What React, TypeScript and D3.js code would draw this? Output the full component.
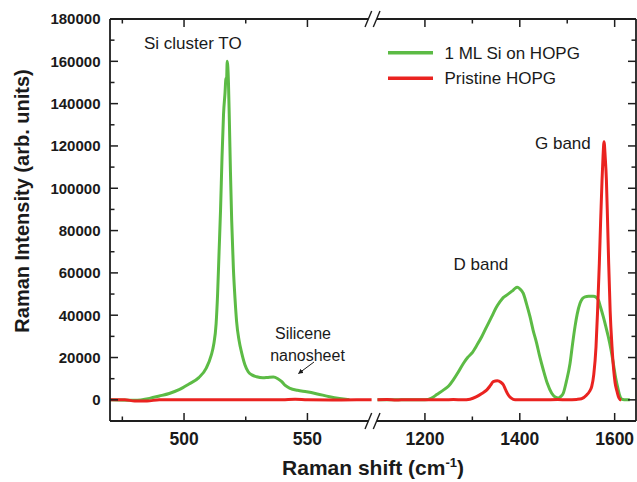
import React from "react";
import * as d3 from "d3";

// ---- data ----
const greenLeftX = [470, 480, 486, 490, 494, 498, 502, 506, 509, 511, 512, 513, 513.6, 514.2, 514.8, 515.4, 516, 516.6, 517, 517.2, 517.5, 518, 518.4, 518.8, 519.3, 520, 520.7, 521.3, 522.3, 523.4, 524.7, 526, 527.5, 529.4, 532, 534, 536.2, 538, 539.6, 541, 543, 546, 549.7, 554, 559, 563, 567];
const greenLeftY = [0, -200, 700, 1800, 3000, 4800, 7500, 10500, 15000, 21000, 26000, 36000, 50000, 70000, 90000, 115000, 135000, 145000, 152000, 150000, 160000, 150000, 130000, 108000, 85000, 62000, 47000, 37000, 28000, 22000, 16500, 13300, 11800, 10900, 10400, 10600, 10800, 10000, 8600, 6800, 5400, 4500, 3800, 2800, 1500, 700, 100];

const redLeftX = [470, 476, 480, 485, 490, 500, 510, 520, 530, 540, 545, 550, 560, 570, 576];
const redLeftY = [0, 0, -500, -500, 0, 0, 100, 0, 0, 100, 300, 0, -100, 0, 0];

const greenRightX = [1100, 1150, 1200, 1214, 1225, 1238.7, 1250, 1259.8, 1270, 1281, 1290, 1298.6, 1310, 1319.7, 1330, 1340.8, 1350, 1358.3, 1365, 1372.4, 1380, 1386.3, 1390, 1394.8, 1400, 1407.4, 1414, 1421.5, 1428, 1435.6, 1442, 1449.6, 1458, 1467.3, 1475, 1481.2, 1486, 1491.7, 1498, 1505.9, 1511, 1516.4, 1521, 1527, 1532, 1537.5, 1545, 1555, 1561, 1565.5, 1570, 1576, 1581, 1586.6, 1592, 1597.2, 1602, 1607.7, 1611, 1614.8, 1620, 1632];
const greenRightY = [0, 0, 0, 800, 2500, 4600, 6500, 9400, 13000, 17200, 20000, 22000, 26000, 29800, 34500, 39300, 43500, 46400, 48300, 49500, 50800, 51900, 52700, 53200, 52500, 50300, 45500, 39300, 33000, 26700, 20500, 14100, 7800, 3100, 1300, 900, 1500, 3100, 8500, 17200, 26000, 34600, 40500, 45600, 47800, 48700, 49000, 49000, 48500, 47200, 44000, 39300, 35000, 29800, 24000, 17200, 10500, 4600, 1800, 300, 0, 0];

const redRightX = [1100, 1120, 1140, 1160, 1180, 1200, 1220, 1240, 1260, 1280, 1295, 1309, 1320, 1330, 1338, 1344, 1352.6, 1360, 1365.3, 1370, 1375.8, 1382, 1390, 1420, 1450, 1480, 1500, 1520, 1530, 1541, 1547, 1551.6, 1556, 1560.7, 1564, 1567.7, 1570.5, 1573.4, 1575.5, 1577.6, 1580, 1582.6, 1585, 1587.4, 1590.5, 1594.4, 1598, 1601, 1604.3, 1608, 1611.3, 1614];
const redRightY = [0, 200, -100, 100, 0, 100, 0, 0, 200, 0, 300, 1500, 3000, 4600, 6800, 8600, 9000, 8300, 7100, 4800, 2300, 800, 0, 100, 0, 200, 0, 200, 500, 2300, 4000, 6200, 12000, 25100, 42000, 64500, 85000, 103900, 115000, 122000, 115000, 103900, 85000, 64500, 42000, 25100, 14000, 8000, 4600, 1500, 200, 0];

const yTicks = [0, 20000, 40000, 60000, 80000, 100000, 120000, 140000, 160000, 180000];
const yMinor = [10000, 30000, 50000, 70000, 90000, 110000, 130000, 150000, 170000];
const xLeftTicks = [500, 550];
const xLeftMinor = [475, 525];
const xRightTicks = [1200, 1400, 1600];
const xRightMinor = [1300, 1500];

const seriesNames = ["1 ML Si on HOPG", "Pristine HOPG"];
const GREEN = "#5cbb45";
const RED = "#ea2320";

export default function App() {
  const W = 637, H = 482;
  const left = 110, right = 636, top = 19, bottom = 421;
  const breakL = 371.6, breakR = 377.5;

  const y = d3.scaleLinear().domain([-10000, 180000]).range([bottom, top]);
  const xL = d3.scaleLinear().domain([470, 576]).range([left, breakL]);
  const xR = d3.scaleLinear().domain([1100, 1645]).range([breakR, right]);

  const mk = (xs: number[], ys: number[], sx: any) =>
    d3.line<number>().x((_, i) => sx(xs[i])).y((v) => y(v)).curve(d3.curveMonotoneX)(ys) || "";

  const axisColor = "#1e1e1e";
  const font = "'Liberation Sans', Arial, sans-serif";
  const majLen = 8, minLen = 4.5;

  const breakMarks = (yy: number) => (
    <g stroke={axisColor} strokeWidth={1.4}>
      <line x1={365} y1={yy + 8} x2={371.7} y2={yy - 8} />
      <line x1={373.3} y1={yy + 8} x2={380} y2={yy - 8} />
    </g>
  );

  return (
    <svg width={W} height={H} style={{ position: "absolute", left: 0, top: 0, background: "#fff" }} fontFamily={font}>
      {/* curves */}
      <path d={mk(greenLeftX, greenLeftY, xL)} fill="none" stroke={GREEN} strokeWidth={3} strokeLinejoin="round" />
      <path d={mk(greenRightX, greenRightY, xR)} fill="none" stroke={GREEN} strokeWidth={3} strokeLinejoin="round" />
      <path d={mk(redLeftX, redLeftY, xL)} fill="none" stroke={RED} strokeWidth={3} strokeLinejoin="round" />
      <path d={mk(redRightX, redRightY, xR)} fill="none" stroke={RED} strokeWidth={3} strokeLinejoin="round" />

      {/* axes frame */}
      <g stroke={axisColor} strokeWidth={1.8} fill="none">
        <line x1={left} y1={top} x2={left} y2={bottom} />
        <line x1={right} y1={top} x2={right} y2={bottom} />
        <line x1={left} y1={bottom} x2={368.5} y2={bottom} />
        <line x1={377} y1={bottom} x2={right} y2={bottom} />
        <line x1={left} y1={top} x2={368.5} y2={top} />
        <line x1={377} y1={top} x2={right} y2={top} />
      </g>
      {breakMarks(bottom)}
      {breakMarks(top)}

      {/* y ticks */}
      <g stroke={axisColor} strokeWidth={1.5}>
        {yTicks.map((t) => (
          <g key={"ym" + t}>
            <line x1={left} x2={left + majLen} y1={y(t)} y2={y(t)} />
            <line x1={right} x2={right - majLen} y1={y(t)} y2={y(t)} />
          </g>
        ))}
        {yMinor.map((t) => (
          <g key={"yn" + t}>
            <line x1={left} x2={left + minLen} y1={y(t)} y2={y(t)} />
            <line x1={right} x2={right - minLen} y1={y(t)} y2={y(t)} />
          </g>
        ))}
        {[...xLeftTicks.map((t) => xL(t)), ...xRightTicks.map((t) => xR(t))].map((px, i) => (
          <g key={"xm" + i}>
            <line x1={px} x2={px} y1={bottom} y2={bottom - majLen} />
            <line x1={px} x2={px} y1={top} y2={top + majLen} />
          </g>
        ))}
        {[...xLeftMinor.map((t) => xL(t)), ...xRightMinor.map((t) => xR(t))].map((px, i) => (
          <g key={"xn" + i}>
            <line x1={px} x2={px} y1={bottom} y2={bottom - minLen} />
            <line x1={px} x2={px} y1={top} y2={top + minLen} />
          </g>
        ))}
      </g>

      {/* tick labels */}
      <g fontSize={15} fontWeight="bold" fill="#1a1a1a" textAnchor="end">
        {yTicks.map((t) => (
          <text key={"yl" + t} x={100.5} y={y(t)} dy="0.36em">{t}</text>
        ))}
      </g>
      <g fontSize={17.5} fontWeight="bold" fill="#1a1a1a" textAnchor="middle">
        {xLeftTicks.map((t) => (
          <text key={"xl" + t} x={xL(t)} y={445}>{t}</text>
        ))}
        {xRightTicks.map((t) => (
          <text key={"xr" + t} x={xR(t)} y={445}>{t}</text>
        ))}
      </g>

      {/* axis titles */}
      <text x={373} y={475} fontSize={21} fontWeight="bold" textAnchor="middle" fill="#1a1a1a">
        Raman shift (cm<tspan dy={-8} fontSize={13}>-1</tspan><tspan dy={8}>)</tspan>
      </text>
      <text transform="translate(28.5,201) rotate(-90)" fontSize={20} fontWeight="bold" textAnchor="middle" fill="#1a1a1a">
        Raman Intensity (arb. units)
      </text>

      {/* annotations */}
      <g fontSize={17} fill="#1a1a1a">
        <text x={144} y={48.5}>Si cluster TO</text>
        <text x={303} y={338.5} textAnchor="middle" fontSize={16}>Silicene</text>
        <text x={307.5} y={360.5} textAnchor="middle" fontSize={16}>nanosheet</text>
        <text x={453.5} y={270}>D band</text>
        <text x={535} y={148.5}>G band</text>
      </g>
      <defs>
        <marker id="ah" viewBox="0 0 10 10" refX="9" refY="5" markerWidth="5" markerHeight="5" orient="auto">
          <path d="M0,0 L10,5 L0,10 z" fill="#1a1a1a" />
        </marker>
      </defs>
      <line x1={314} y1={362} x2={298.5} y2={373.5} stroke="#1a1a1a" strokeWidth={1} markerEnd="url(#ah)" />

      {/* legend */}
      <line x1={388} x2={433} y1={52.7} y2={52.7} stroke={GREEN} strokeWidth={3.5} />
      <line x1={388} x2={433} y1={78.3} y2={78.3} stroke={RED} strokeWidth={3.5} />
      <g fontSize={17} fill="#1a1a1a">
        <text x={444.5} y={58.5}>{seriesNames[0]}</text>
        <text x={444.5} y={83.5}>{seriesNames[1]}</text>
      </g>
    </svg>
  );
}
